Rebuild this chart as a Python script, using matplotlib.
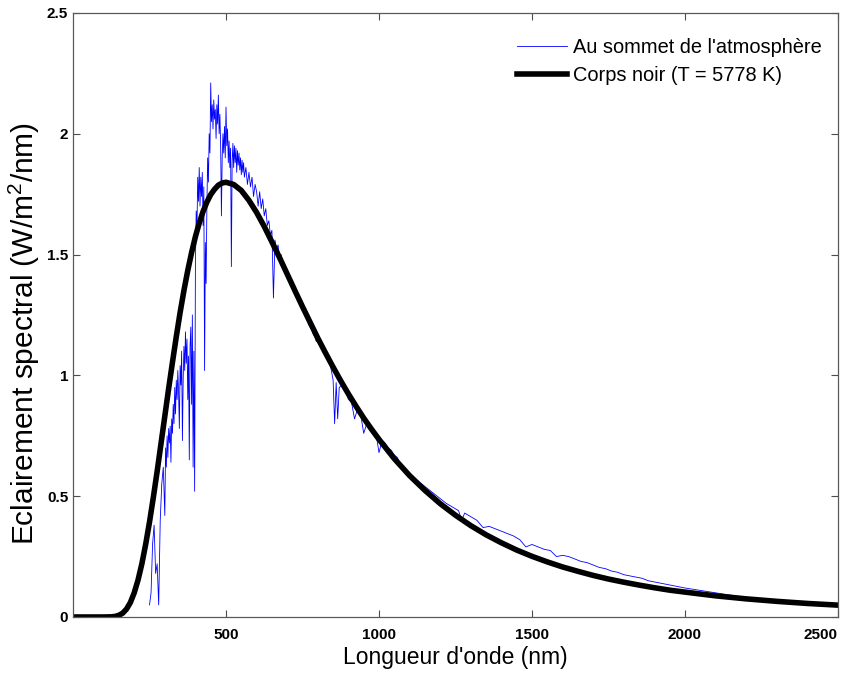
import matplotlib.pyplot as plt
import numpy as np

plt.rcParams['font.family'] = ['Liberation Sans', 'DejaVu Sans']
plt.rcParams['mathtext.fontset'] = 'custom'
plt.rcParams['mathtext.rm'] = 'Liberation Sans'

# spectre au sommet de l'atmosphere, par morceaux
lam_uv = [250, 255, 260, 265, 270, 275, 280, 285, 290, 295]
E_uv = [0.05, 0.10, 0.30, 0.38, 0.18, 0.22, 0.05, 0.40, 0.55, 0.62]

lam_vis = np.arange(300, 562.5, 2.5)   # pas de 2.5 nm
E_vis = [0.42, 0.70, 0.62, 0.75, 0.66, 0.78, 0.72, 0.79, 0.64, 0.82,
         0.76, 0.88, 0.80, 0.95, 0.84, 0.98, 0.90, 1.02, 0.93, 0.78,
         1.04, 0.96, 1.10, 0.73, 0.98, 1.12, 1.02, 1.18, 1.05, 1.15,
         0.90, 1.08, 0.65, 1.12, 1.20, 0.88, 1.25, 0.62, 1.10, 0.52,
         1.45, 1.68, 1.60, 1.82, 1.72, 1.86, 1.70, 1.82, 1.74, 1.84,
         1.62, 1.78, 1.02, 1.55, 1.38, 1.70, 1.90, 1.80, 2.00, 1.92,
         2.21, 2.05, 2.12, 2.02, 2.14, 2.06, 2.10, 1.98, 2.12, 2.04,
         2.16, 2.00, 2.08, 1.95, 1.66, 1.90, 2.00, 1.92, 2.03, 1.90,
         2.11, 1.95, 2.02, 1.88, 1.97, 1.86, 1.94, 1.45, 1.88, 1.96,
         1.86, 1.95, 1.88, 1.94, 1.84, 1.93, 1.87, 1.92, 1.85, 1.90,
         1.83, 1.89, 1.84, 1.88, 1.82]

lam_red = np.arange(565, 805, 5)
E_red = [1.86, 1.79, 1.84, 1.78, 1.82, 1.74, 1.79, 1.76, 1.70, 1.76,
         1.69, 1.73, 1.66, 1.69, 1.62, 1.64, 1.58, 1.60, 1.32, 1.56,
         1.52, 1.54, 1.49, 1.50, 1.47, 1.46, 1.44, 1.43, 1.41, 1.40,
         1.38, 1.36, 1.35, 1.33, 1.31, 1.30, 1.29, 1.27, 1.26, 1.24,
         1.23, 1.21, 1.20, 1.19, 1.17, 1.16, 1.14, 1.14]

lam_ir = [810, 820, 830, 840, 850, 855, 860, 865, 870,
          880, 890, 900, 910, 920, 930, 940, 950, 960, 970,
          980, 990, 1000, 1010, 1020, 1030, 1040, 1050, 1060, 1070,
          1080, 1090, 1100, 1110, 1120, 1130, 1140, 1150, 1160, 1170,
          1180, 1190, 1200, 1220, 1240, 1260, 1270, 1280, 1300, 1320,
          1340, 1360, 1380, 1400, 1420, 1440, 1460, 1480, 1500, 1520,
          1540, 1560, 1580, 1600, 1620, 1640, 1660, 1680, 1700, 1720,
          1740, 1760, 1780, 1800, 1820, 1840, 1860, 1880, 1900, 1920,
          1940, 1960, 1980, 2000, 2050, 2100, 2200, 2300, 2400, 2500]
E_ir = [1.12, 1.10, 1.08, 1.05, 0.98, 0.80, 0.97, 0.82, 0.95,
        0.96, 0.94, 0.90, 0.89, 0.82, 0.86, 0.84, 0.76, 0.80, 0.79,
        0.77, 0.76, 0.68, 0.73, 0.72, 0.70, 0.69, 0.67, 0.66, 0.63,
        0.62, 0.61, 0.59, 0.58, 0.57, 0.56, 0.55, 0.54, 0.53, 0.52,
        0.51, 0.50, 0.49, 0.47, 0.455, 0.44, 0.40, 0.43, 0.415, 0.40,
        0.37, 0.375, 0.365, 0.355, 0.345, 0.335, 0.32, 0.29, 0.30, 0.29,
        0.28, 0.275, 0.25, 0.255, 0.25, 0.24, 0.23, 0.225, 0.215, 0.205,
        0.20, 0.19, 0.185, 0.175, 0.17, 0.165, 0.16, 0.15, 0.145, 0.14,
        0.135, 0.13, 0.125, 0.12, 0.11, 0.10, 0.08, 0.068, 0.058, 0.05]

lam_toa = np.concatenate([lam_uv, lam_vis, lam_red, lam_ir])
E_toa = np.concatenate([E_uv, E_vis, E_red, E_ir])

# corps noir T = 5778 K
lam_cn = [0, 100, 125, 137.5, 150, 162.5, 175, 187.5, 200, 212.5,
          225, 237.5, 250, 262.5, 275, 287.5, 300, 312.5, 325, 337.5,
          350, 362.5, 375, 387.5, 400, 412.5, 425, 437.5, 450, 462.5,
          475, 487.5, 500, 525, 550, 575, 600, 625, 650, 675,
          700, 725, 750, 775, 800, 825, 850, 875, 900, 925,
          950, 975, 1000, 1050, 1100, 1150, 1200, 1250, 1300, 1350,
          1400, 1450, 1500, 1550, 1600, 1650, 1700, 1750, 1800, 1850,
          1900, 1950, 2000, 2100, 2200, 2300, 2400, 2500]
E_cn = [0, 0, 0.0006, 0.0023, 0.007, 0.016, 0.033, 0.060, 0.100, 0.153,
        0.220, 0.301, 0.393, 0.495, 0.603, 0.717, 0.831, 0.945, 1.054, 1.160,
        1.260, 1.351, 1.434, 1.508, 1.574, 1.630, 1.678, 1.717, 1.748, 1.770,
        1.787, 1.796, 1.799, 1.790, 1.765, 1.724, 1.674, 1.616, 1.552, 1.487,
        1.419, 1.351, 1.284, 1.219, 1.154, 1.093, 1.034, 0.977, 0.923, 0.872,
        0.823, 0.778, 0.735, 0.655, 0.585, 0.524, 0.469, 0.421, 0.378, 0.340,
        0.307, 0.277, 0.251, 0.228, 0.207, 0.189, 0.172, 0.157, 0.144, 0.132,
        0.121, 0.111, 0.103, 0.0875, 0.075, 0.0647, 0.056, 0.049]

fig = plt.figure(figsize=(8.55, 6.78), dpi=100)
ax = fig.add_axes([0.0854, 0.090, 0.8947, 0.891])

ax.plot(lam_toa, E_toa, color='#0000ff', lw=0.6, label="Au sommet de l'atmosphère")
ax.plot(lam_cn, E_cn, color='black', lw=4, solid_joinstyle='round',
        label='Corps noir (T = 5778 K)')

ax.set_xlim(0, 2500)
ax.set_ylim(0, 2.5)
ax.set_xticks([500, 1000, 1500, 2000, 2500])
ax.set_yticks([0, 0.5, 1, 1.5, 2, 2.5])
ax.set_yticklabels(['0', '0.5', '1', '1.5', '2', '2.5'])
ax.tick_params(direction='in', top=True, right=True, length=5, width=0.8,
               labelsize=11, color='0.3')
ax.tick_params(axis='x', pad=8)
for lab in ax.get_xticklabels() + ax.get_yticklabels():
    lab.set_fontweight('bold')
ax.get_xticklabels()[-1].set_ha('right')
for s in ax.spines.values():
    s.set_color('0.35')
    s.set_linewidth(0.9)

ax.set_xlabel("Longueur d'onde (nm)", fontsize=16.5)
ax.set_ylabel('Eclairement spectral (W/m$^2$/nm)', fontsize=21.5)
ax.xaxis.set_label_coords(0.4993, -0.048)
ax.yaxis.set_label_coords(-0.041, 0.47)

ax.legend(loc='upper right', frameon=False, fontsize=14.4, handlelength=2.5,
          handletextpad=0.3, borderpad=0, borderaxespad=0, labelspacing=0.45,
          bbox_to_anchor=(0.979, 0.959))

fig.savefig('out.png', dpi=100)
